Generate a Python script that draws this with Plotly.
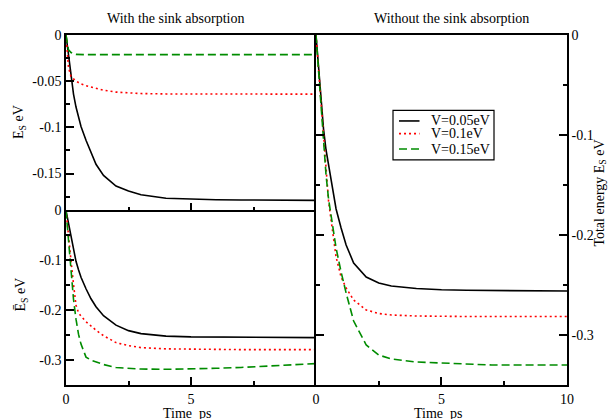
import plotly.graph_objects as go

# Time grid (ps) shared by all curves
time_ps = [0, 0.1, 0.2, 0.3, 0.4, 0.5, 0.6, 0.8, 1.0, 1.2, 1.5, 2.0, 2.5, 3.0,
           4.0, 5.0, 6.0, 7.0, 8.0, 9.0, 10.0]

series_names = ["V=0.05eV", "V=0.1eV", "V=0.15eV"]

# With sink absorption: E_S (upper left panel)
sink_es_v005 = [0, -0.022, -0.045, -0.064, -0.078, -0.089, -0.099, -0.114, -0.127, -0.140,
                -0.152, -0.1635, -0.169, -0.173, -0.1768, -0.1778, -0.1783, -0.1786,
                -0.1788, -0.1789, -0.179]
sink_es_v01 = [0, -0.035, -0.045, -0.048, -0.050, -0.0515, -0.053, -0.055, -0.0565, -0.058,
               -0.0598, -0.0618, -0.0628, -0.0634, -0.0638, -0.064, -0.064, -0.064,
               -0.064, -0.064, -0.064]
sink_es_v015 = [0, -0.016, -0.019, -0.0205, -0.021, -0.0212, -0.0213, -0.0213, -0.0213,
                -0.0213, -0.0213, -0.0213, -0.0213, -0.0213, -0.0213, -0.0213, -0.0213,
                -0.0213, -0.0213, -0.0213, -0.0213]

# With sink absorption: mean E_S (lower left panel)
sink_mean_v005 = [0, -0.026, -0.052, -0.080, -0.102, -0.119, -0.134, -0.157, -0.177, -0.193,
                  -0.211, -0.230, -0.241, -0.247, -0.252, -0.2535, -0.254, -0.2545,
                  -0.255, -0.255, -0.255]
sink_mean_v01 = [0, -0.055, -0.100, -0.148, -0.190, -0.205, -0.212, -0.223, -0.232, -0.240,
                 -0.251, -0.265, -0.271, -0.275, -0.2775, -0.2785, -0.279, -0.279,
                 -0.279, -0.279, -0.279]
sink_mean_v015 = [0, -0.055, -0.125, -0.178, -0.218, -0.248, -0.268, -0.294, -0.300, -0.304,
                  -0.309, -0.315, -0.317, -0.318, -0.3185, -0.318, -0.3165, -0.3148,
                  -0.3125, -0.310, -0.307]

# Without sink absorption: total energy (right panel)
nosink_v005 = [0, -0.032, -0.064, -0.094, -0.115, -0.130, -0.146, -0.174, -0.193, -0.210,
               -0.228, -0.242, -0.248, -0.251, -0.2535, -0.2548, -0.2553, -0.2556,
               -0.256, -0.256, -0.256]
nosink_v01 = [0, -0.035, -0.070, -0.105, -0.140, -0.166, -0.185, -0.222, -0.242, -0.253,
              -0.265, -0.275, -0.2785, -0.280, -0.281, -0.2815, -0.2815, -0.2815,
              -0.2815, -0.2815, -0.2815]
nosink_v015 = [0, -0.035, -0.070, -0.105, -0.140, -0.164, -0.182, -0.213, -0.237, -0.258,
               -0.286, -0.310, -0.320, -0.324, -0.327, -0.328, -0.329, -0.330,
               -0.330, -0.330, -0.330]

x_ticks = [0, 5, 10]
x_minor = [2.5, 7.5]
left_top_ticks = [0, -0.05, -0.1, -0.15]
left_top_minor = [-0.025, -0.075, -0.125, -0.175]
e_ticks = [0, -0.1, -0.2, -0.3]
e_minor = [-0.05, -0.15, -0.25, -0.35]

FONT = "Liberation Serif"
styles = [
    dict(color="#000000", width=1.6, dash="solid"),
    dict(color="#ff0000", width=1.6, dash="2px,3px"),
    dict(color="#008c00", width=1.6, dash="8px,4px"),
]

fig = go.Figure()

panels = [
    ("x2", "y2", [sink_es_v005, sink_es_v01, sink_es_v015]),
    ("x", "y", [sink_mean_v005, sink_mean_v01, sink_mean_v015]),
    ("x3", "y3", [nosink_v005, nosink_v01, nosink_v015]),
]
for xa, ya, curves in panels:
    for name, vals, st in zip(series_names, curves, styles):
        fig.add_trace(go.Scatter(
            x=time_ps, y=vals, mode="lines", name=name, xaxis=xa, yaxis=ya,
            line=st, showlegend=False,
        ))


def fmt(v):
    return "0" if v == 0 else ("%g" % v)


def xaxis_cfg(domain, anchor, ticks, labels, mirror=True):
    return dict(
        domain=domain, anchor=anchor, range=[0, 10],
        tickmode="array", tickvals=ticks, ticktext=[fmt(v) for v in ticks],
        showticklabels=labels, ticks="inside", ticklen=8, tickwidth=1.5,
        tickcolor="black",
        minor=dict(tickmode="array", tickvals=x_minor, ticks="inside",
                   ticklen=4, tickwidth=1.5, tickcolor="black"),
        showline=True, linecolor="black", linewidth=1.6, mirror=mirror,
        showgrid=False, zeroline=False,
        tickfont=dict(family=FONT, size=14, color="black"),
    )


def yaxis_cfg(domain, anchor, rng, ticks, minor, side="left", mirror=False):
    return dict(
        domain=domain, anchor=anchor, range=rng, side=side,
        tickmode="array", tickvals=ticks, ticktext=[fmt(v) for v in ticks],
        ticks="inside", ticklen=8, tickwidth=1.5, tickcolor="black",
        minor=dict(tickmode="array", tickvals=minor, ticks="inside",
                   ticklen=4, tickwidth=1.5, tickcolor="black"),
        showline=True, linecolor="black", linewidth=1.6, mirror=mirror,
        showgrid=False, zeroline=False,
        tickfont=dict(family=FONT, size=14, color="black"),
    )


split_x = 0.499
split_y = 0.4986

fig.update_layout(
    width=613, height=419,
    margin=dict(l=66, r=46, t=35, b=31),
    paper_bgcolor="white", plot_bgcolor="white",
    font=dict(family=FONT, size=14, color="black"),
    xaxis=xaxis_cfg([0, split_x], "y", [0, 5], True, mirror=False),
    xaxis2=xaxis_cfg([0, split_x], "y2", [0, 5], False, mirror=True),
    xaxis3=xaxis_cfg([split_x, 1], "y3", x_ticks, True, mirror=True),
    yaxis=yaxis_cfg([0, split_y], "x", [-0.35, 0], e_ticks, e_minor),
    yaxis2=yaxis_cfg([split_y, 1], "x2", [-0.19, 0], left_top_ticks, left_top_minor),
    yaxis3=yaxis_cfg([0, 1], "x3", [-0.35, 0], e_ticks, e_minor,
                     side="right", mirror="ticks"),
    showlegend=False,
)

# Legend box drawn in paper coordinates
legend_box = dict(x0=0.6527, x1=0.8543, y0=0.6431, y1=0.7847)
legend_rows = [0.7544, 0.7181, 0.6742]
fig.add_shape(type="rect", xref="paper", yref="paper", line=dict(color="black", width=1.2),
              fillcolor="white", layer="above", **legend_box)
for name, st, yr in zip(series_names, styles, legend_rows):
    fig.add_shape(type="line", xref="paper", yref="paper", x0=0.6647, x1=0.7056,
                  y0=yr, y1=yr, layer="above",
                  line=dict(color=st["color"], width=st["width"], dash=st["dash"]))
    fig.add_annotation(xref="paper", yref="paper", x=0.7255, y=yr, text=name,
                       showarrow=False, xanchor="left", yanchor="middle",
                       font=dict(family=FONT, size=14, color="black"))

annotations = [
    dict(text="With the sink absorption", x=0.2176, y=1.048),
    dict(text="Without the sink absorption", x=0.7685, y=1.048),
    dict(text="Time  ps", x=0.2435, y=-0.082),
    dict(text="Time  ps", x=0.7445, y=-0.082),
    dict(text="E<sub>S</sub> eV", x=-0.094, y=0.751, textangle=-90),
    dict(text="\u0112<sub>S</sub> eV", x=-0.088, y=0.258, textangle=-90),
    dict(text="Total energy E<sub>S</sub> eV", x=1.066, y=0.547, textangle=-90),
]
for a in annotations:
    fig.add_annotation(xref="paper", yref="paper", showarrow=False,
                       xanchor="center", yanchor="middle",
                       font=dict(family=FONT, size=14, color="black"), **a)

fig.write_html("out.html")
